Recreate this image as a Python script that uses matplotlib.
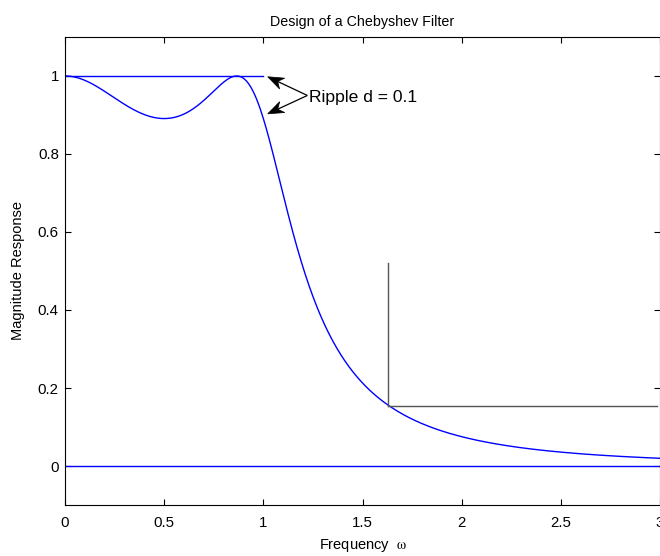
import numpy as np
import matplotlib
matplotlib.use("Agg")
import matplotlib.pyplot as plt
from matplotlib.patches import Polygon
from matplotlib.transforms import IdentityTransform

plt.rcParams['font.family'] = ['Liberation Sans', 'DejaVu Sans']
plt.rcParams['mathtext.fontset'] = 'stix'

# Third-order Chebyshev type I low-pass response
filter_order = 3
ripple_eps = 0.51
freq = np.linspace(0, 3, 601)
cheb = np.cos(filter_order * np.arccos(np.clip(freq, -1, 1)))
cheb = np.where(freq > 1, np.cosh(filter_order * np.arccosh(np.maximum(freq, 1))), cheb)
magnitude = 1.0 / np.sqrt(1.0 + (ripple_eps * cheb) ** 2)

# Reference guides
passband_x = [0, 1]
passband_y = [1, 1]
stop_freq = 1.628
stop_level = 0.155
stop_marker_top = 0.52
stop_line_end = 2.985

# Ripple annotation
label_anchor = (1.222, 0.950)
arrow_tips = [(1.022, 0.998), (1.022, 0.903)]
ripple_label = 'Ripple d = 0.1'

xticks = [0, 0.5, 1, 1.5, 2, 2.5, 3]
xticklabels = ['0', '0.5', '1', '1.5', '2', '2.5', '3']
yticks = [0, 0.2, 0.4, 0.6, 0.8, 1]
yticklabels = ['0', '0.2', '0.4', '0.6', '0.8', '1']

fig = plt.figure(figsize=(6.6, 5.56), dpi=100)
ax = fig.add_axes([0.0985, 0.0917, 0.9015, 0.8418])

ax.plot(freq, magnitude, color='#0000ff', lw=1.0)
ax.plot(passband_x, passband_y, color='#0000ff', lw=1.0)
ax.axhline(0, color='#0000ff', lw=1.0)
ax.plot([stop_freq, stop_freq], [stop_level, stop_marker_top], color='#555555', lw=1.0)
ax.plot([stop_freq, stop_line_end], [stop_level, stop_level], color='#555555', lw=1.0)

ax.set_xlim(0, 3)
ax.set_ylim(-0.1, 1.1)


def notched_arrow(ax, tail, tip, head_len=16, half_w=6, notch=11):
    """Shaft plus a notched (barbed) filled head, built in pixel space."""
    t = ax.transData.transform(tail)
    h = ax.transData.transform(tip)
    d = h - t
    u = d / np.hypot(*d)
    n = np.array([-u[1], u[0]])
    base = h - notch * u
    base_data = ax.transData.inverted().transform(base)
    ax.plot([tail[0], base_data[0]], [tail[1], base_data[1]],
            color='black', lw=0.9, solid_capstyle='butt')
    pts = [h, h - head_len * u + half_w * n, base, h - head_len * u - half_w * n]
    ax.add_patch(Polygon(pts, closed=True, facecolor='black', edgecolor='black',
                         lw=0.5, transform=IdentityTransform(), clip_on=False))


for tip in arrow_tips:
    notched_arrow(ax, label_anchor, tip)
ax.text(label_anchor[0] + 0.006, label_anchor[1] - 0.004, ripple_label,
        fontsize=12.6, va='center', ha='left')

ax.set_xticks(xticks)
ax.set_xticklabels(xticklabels)
ax.set_yticks(yticks)
ax.set_yticklabels(yticklabels)
ax.tick_params(direction='in', top=True, right=True, labelsize=10.8, length=4, width=0.8)
ax.tick_params(axis='x', pad=7.6)
ax.tick_params(axis='y', pad=4.5)
for s in ax.spines.values():
    s.set_linewidth(0.8)

ax.set_title('Design of a Chebyshev Filter', fontsize=10.3, pad=8)
ax.set_xlabel('Frequency  $\\mathrm{\\omega}$', fontsize=10.5, labelpad=5.5)
ax.set_ylabel('Magnitude Response', fontsize=10.5, labelpad=9)

fig.savefig('out.png', dpi=100)
